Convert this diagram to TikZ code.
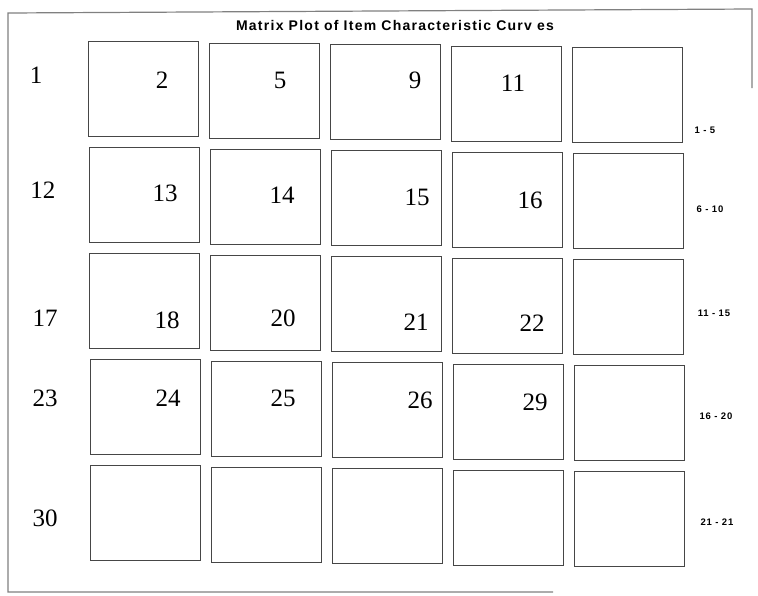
\documentclass[tikz,border=0pt]{standalone}
\usepackage{fontspec}
\setmainfont{Liberation Serif}
\newfontfamily\titlefont[LetterSpace=9]{Liberation Sans}
\newfontfamily\rngfont[LetterSpace=8]{Liberation Sans}
\usetikzlibrary{positioning}
\definecolor{scangray}{RGB}{70,70,70}

\begin{document}
\begin{tikzpicture}[x=1pt,y=-1pt,
    panel/.style={draw=scangray, line width=0.8pt, anchor=north west, minimum width=110pt, minimum height=95pt, inner sep=0pt},
    num/.style={font=\fontsize{25}{25}\selectfont},
    rng/.style={font=\rngfont\bfseries\fontsize{9.5}{9.5}\selectfont},
    frame/.style={draw=gray, line width=1.2pt}
]
\useasboundingbox (0,0) rectangle (758,595);
% outer frame (partly faded in the scan)
\coordinate (f1) at (8,13);
\coordinate (f2) at (752,9);
\coordinate (f3) at (752,88);
\coordinate (f4) at (8,592);
\coordinate (f5) at (553,592);
\draw[frame] (f3) -- (f2) -- (f1) -- (f4) -- (f5);
\node[font=\titlefont\bfseries\fontsize{14}{14}\selectfont] (title) at (395,25) {Matrix Plot of Item Characteristic Curv es};
% grid of panels
\foreach \r in {0,...,4}
  \foreach \c in {0,...,4}
    \node[panel] (p\r\c) at ({88+121*\c+0.6*\r},{41+106*\r+1.6*\c}) {};
% row labels
\node[num] (r1) at (36,75) {1};
\node[num] (r12) at (43,190) {12};
\node[num] (r17) at (45,318) {17};
\node[num] (r23) at (45,398) {23};
\node[num] (r30) at (45,518) {30};
% panel numbers
\node[num] (n2) at (162,80) {2};
\node[num] (n5) at (280,80) {5};
\node[num] (n9) at (415,80) {9};
\node[num] (n11) at (513,83) {11};
\node[num] (n13) at (165,193) {13};
\node[num] (n14) at (282,195) {14};
\node[num] (n15) at (417,197) {15};
\node[num] (n16) at (530,200) {16};
\node[num] (n18) at (167,320) {18};
\node[num] (n20) at (283,318) {20};
\node[num] (n21) at (416,322) {21};
\node[num] (n22) at (532,323) {22};
\node[num] (n24) at (168,398) {24};
\node[num] (n25) at (283,398) {25};
\node[num] (n26) at (420,400) {26};
\node[num] (n29) at (535,402) {29};
% ranges on the right
\node[rng] (g1) at (705,130) {1 - 5};
\node[rng] (g2) at (710,209) {6 - 10};
\node[rng] (g3) at (714,313) {11 - 15};
\node[rng] (g4) at (716,416) {16 - 20};
\node[rng] (g5) at (717,522) {21 - 21};
\end{tikzpicture}
\end{document}
